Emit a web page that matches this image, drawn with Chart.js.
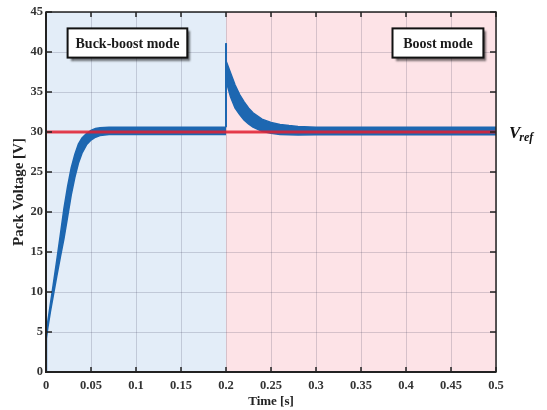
<!DOCTYPE html>
<html><head><meta charset="utf-8">
<script src="https://cdn.jsdelivr.net/npm/chart.js@4/dist/chart.umd.min.js"></script>
<style>html,body{margin:0;padding:0;background:#fff;}</style>
</head><body>
<canvas id="c" width="547" height="410"></canvas>
<script>
// ---- data ----
const timeRise  = [0, 0.0004, 0.002, 0.005, 0.008, 0.012, 0.016, 0.02, 0.024, 0.028, 0.032, 0.036, 0.04, 0.045, 0.05, 0.055, 0.06, 0.07, 0.08, 0.12, 0.16, 0.2];
const riseUpper = [0, 4.6, 6.3, 8.6, 10.9, 14.0, 17.2, 20.5, 23.2, 25.5, 27.2, 28.5, 29.25, 29.8, 30.2, 30.45, 30.52, 30.58, 30.6, 30.6, 30.6, 30.6];
const riseLower = [0, 4.2, 5.5, 7.6, 9.5, 12.0, 14.4, 16.7, 19.4, 22.1, 24.3, 26.1, 27.35, 28.4, 29.0, 29.35, 29.55, 29.68, 29.7, 29.7, 29.7, 29.7];

const timeBoost  = [0.2, 0.2003, 0.202, 0.205, 0.21, 0.215, 0.22, 0.225, 0.23, 0.24, 0.25, 0.26, 0.27, 0.28, 0.3, 0.35, 0.4, 0.5];
const boostUpper = [41.1, 38.8, 38.3, 37.4, 35.9, 34.7, 33.8, 33.0, 32.4, 31.6, 31.2, 30.95, 30.8, 30.7, 30.6, 30.6, 30.6, 30.6];
const boostLower = [36.8, 36.6, 35.6, 34.4, 33.0, 32.2, 31.5, 31.0, 30.6, 30.1, 29.85, 29.7, 29.65, 29.62, 29.65, 29.65, 29.65, 29.65];

const vRef = 30;
const modeSwitchTime = 0.2;
const xTickLabels = ['0', '0.05', '0.1', '0.15', '0.2', '0.25', '0.3', '0.35', '0.4', '0.45', '0.5'];
const yTickLabels = ['0', '5', '10', '15', '20', '25', '30', '35', '40', '45'];
const modeLabels = ['Buck-boost mode', 'Boost mode'];

// ---- styling ----
const SERIF = "'Liberation Serif', 'Times New Roman', serif";
const BLUE = '#1d67b1';
const RED = 'rgba(228,30,48,0.85)';
const GRID = 'rgba(60,60,90,0.2)';

const pts = (ts, vs) => ts.map((t, i) => ({x: t, y: vs[i]}));

const decor = {
  id: 'decor',
  beforeDraw(chart) {
    const {ctx, chartArea: a, scales: {x}} = chart;
    const xs = x.getPixelForValue(modeSwitchTime);
    ctx.save();
    ctx.fillStyle = '#e3edf8';
    ctx.fillRect(a.left, a.top, xs - a.left, a.bottom - a.top);
    ctx.fillStyle = '#fde3e7';
    ctx.fillRect(xs, a.top, a.right - xs, a.bottom - a.top);
    ctx.restore();
  },
  afterDraw(chart) {
    const {ctx, chartArea: a, scales: {x, y}} = chart;
    ctx.save();
    // frame
    ctx.strokeStyle = '#222';
    ctx.lineWidth = 1.5;
    ctx.strokeRect(a.left, a.top, a.right - a.left, a.bottom - a.top);
    ctx.lineWidth = 2;
    ctx.beginPath();
    ctx.moveTo(a.left, a.top); ctx.lineTo(a.left, a.bottom); ctx.lineTo(a.right, a.bottom);
    ctx.stroke();
    // inward ticks
    ctx.lineWidth = 1.5;
    ctx.beginPath();
    x.ticks.forEach(t => {
      const px = x.getPixelForValue(t.value);
      ctx.moveTo(px, a.bottom); ctx.lineTo(px, a.bottom - 5);
      ctx.moveTo(px, a.top); ctx.lineTo(px, a.top + 5);
    });
    y.ticks.forEach(t => {
      const py = y.getPixelForValue(t.value);
      ctx.moveTo(a.left, py); ctx.lineTo(a.left + 6, py);
      ctx.moveTo(a.right, py); ctx.lineTo(a.right - 6, py);
    });
    ctx.stroke();
    // mode boxes
    const boxes = [
      {text: modeLabels[0], x0: 0.024, x1: 0.157, y0: 42.95, y1: 39.3},
      {text: modeLabels[1], x0: 0.385, x1: 0.486, y0: 42.95, y1: 39.3}
    ];
    boxes.forEach(b => {
      const l = x.getPixelForValue(b.x0), r = x.getPixelForValue(b.x1);
      const t = y.getPixelForValue(b.y0), bt = y.getPixelForValue(b.y1);
      ctx.save();
      ctx.shadowColor = 'rgba(0,0,0,0.55)';
      ctx.shadowOffsetX = 3; ctx.shadowOffsetY = 3; ctx.shadowBlur = 2;
      ctx.fillStyle = '#fff';
      ctx.fillRect(l, t, r - l, bt - t);
      ctx.restore();
      ctx.strokeStyle = '#111';
      ctx.lineWidth = 2;
      ctx.strokeRect(l, t, r - l, bt - t);
      ctx.fillStyle = '#1a1a1a';
      ctx.font = 'bold 14px ' + SERIF;
      ctx.textAlign = 'center';
      ctx.textBaseline = 'middle';
      ctx.fillText(b.text, (l + r) / 2, (t + bt) / 2 + 1);
    });
    // Vref label
    const vy = y.getPixelForValue(vRef);
    ctx.fillStyle = '#111';
    ctx.textAlign = 'left';
    ctx.textBaseline = 'alphabetic';
    ctx.font = 'italic bold 17px ' + SERIF;
    ctx.fillText('V', a.right + 13, vy + 6);
    const vw = ctx.measureText('V').width;
    ctx.font = 'italic bold 12px ' + SERIF;
    ctx.fillText('ref', a.right + 12 + vw, vy + 9);
    ctx.restore();
  }
};

new Chart(document.getElementById('c'), {
  type: 'line',
  data: {
    datasets: [
      {data: [{x: 0, y: vRef}, {x: 0.5, y: vRef}], borderColor: RED, borderWidth: 3, pointRadius: 0, fill: false, order: 0},
      {data: [{x: modeSwitchTime, y: riseUpper[riseUpper.length - 1]}, {x: modeSwitchTime, y: boostUpper[0]}], borderColor: BLUE, borderWidth: 2, pointRadius: 0, fill: false, order: 1},
      {data: pts(timeRise, riseUpper), borderColor: BLUE, borderWidth: 1.5, pointRadius: 0, fill: false, order: 2},
      {data: pts(timeRise, riseLower), borderColor: BLUE, borderWidth: 1.5, pointRadius: 0, fill: '-1', backgroundColor: BLUE, order: 2},
      {data: pts(timeBoost, boostUpper), borderColor: BLUE, borderWidth: 1.5, pointRadius: 0, fill: false, order: 2},
      {data: pts(timeBoost, boostLower), borderColor: BLUE, borderWidth: 1.5, pointRadius: 0, fill: '-1', backgroundColor: BLUE, order: 2}
    ]
  },
  options: {
    responsive: false,
    animation: false,
    devicePixelRatio: 1,
    layout: {padding: {left: 0, right: 51, top: 12, bottom: 0}},
    plugins: {legend: {display: false}, tooltip: {enabled: false}},
    elements: {line: {tension: 0}},
    scales: {
      x: {
        type: 'linear', min: 0, max: 0.5,
        grid: {color: GRID, lineWidth: 1, drawTicks: false},
        border: {display: false},
        ticks: {stepSize: 0.05, autoSkip: false, maxRotation: 0, padding: 6, color: '#333',
          font: {family: SERIF, size: 12.5, weight: 'bold'},
          callback: (v, i) => xTickLabels[i]},
        title: {display: true, text: 'Time [s]', color: '#222', font: {family: SERIF, size: 13, weight: 'bold'}, padding: {top: 0, bottom: 1}},
        afterFit: s => { s.height = 38; }
      },
      y: {
        type: 'linear', min: 0, max: 45,
        grid: {color: GRID, lineWidth: 1, drawTicks: false},
        border: {display: false},
        ticks: {stepSize: 5, padding: 3, color: '#333',
          font: {family: SERIF, size: 12.5, weight: 'bold'},
          callback: (v, i) => yTickLabels[i]},
        title: {display: true, text: 'Pack Voltage [V]', color: '#222', font: {family: SERIF, size: 15, weight: 'bold'}, padding: {top: 10, bottom: 0}},
        afterFit: s => { s.width = 46; }
      }
    }
  },
  plugins: [decor]
});
</script>
</body></html>
